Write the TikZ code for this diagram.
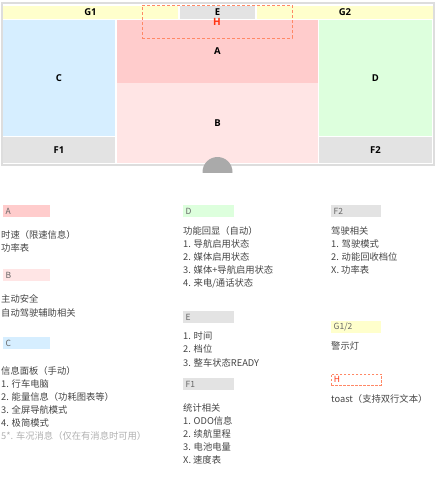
\documentclass[tikz,border=0pt]{standalone}
\usepackage{fontspec}
\setmainfont{Noto Sans CJK SC}
\newfontfamily\labfont{Open Sans}
\definecolor{cA}{HTML}{FFCCCC}
\definecolor{cB}{HTML}{FFE5E5}
\definecolor{cC}{HTML}{D6EEFF}
\definecolor{cD}{HTML}{DDFFDD}
\definecolor{cE}{HTML}{E3E3E3}
\definecolor{cG}{HTML}{FFFFCC}
\definecolor{cH}{HTML}{FF8866}
\definecolor{cHt}{HTML}{FF3311}
\definecolor{frame}{HTML}{DDDDDD}
\definecolor{semi}{HTML}{AAAAAA}
\definecolor{txtc}{HTML}{444444}
\definecolor{dimc}{HTML}{B0B0B0}
\definecolor{swt}{HTML}{666666}
\begin{document}
\begin{tikzpicture}[x=1pt,y=-1pt,
  cell/.style={fill=#1,draw=none,inner sep=0,font=\labfont\bfseries\fontsize{9.5}{11}\selectfont,text=black},
  hbox/.style={draw=cH,dash pattern=on 3pt off 2pt,line width=1pt,inner sep=0,
     font=\labfont\bfseries\fontsize{10}{12}\selectfont,text=cHt},
  swatch/.style={fill=#1,draw=none,anchor=north west,minimum height=12pt,inner ysep=0,inner xsep=2.5pt,
     align=left,font=\fontsize{8.5}{10}\selectfont,text=swt},
  hswatch/.style={draw=cH,dash pattern=on 2.5pt off 1.5pt,line width=0.8pt,anchor=north west,minimum height=11pt,
     inner ysep=0,inner xsep=2.5pt,align=left,font=\fontsize{8.5}{10}\selectfont,text=cHt},
  txt/.style={anchor=base west,inner sep=0,font=\fontsize{9.3}{12}\selectfont,text=txtc},
  dim/.style={txt,text=dimc}]
\useasboundingbox (0,0) rectangle (435,482);
% frame
\draw[frame,line width=1.5pt,fill=white] (2,3) rectangle (434,165);
% cells
\node[cell=cG,minimum width=175pt,minimum height=13pt] (G1) at (90.5,12.5) {G1};
\node[cell=cE,minimum width=75pt,minimum height=13pt] (E) at (217.5,12.5) {E};
\node[cell=cG,minimum width=176pt,minimum height=13pt] (G2) at (345,12.5) {G2};
\node[cell=cC,minimum width=112pt,minimum height=116pt] (C) at (59,78) {C};
\node[cell=cE,minimum width=112pt,minimum height=26pt] (F1) at (59,150) {F1};
\node[cell=cA,minimum width=201pt,minimum height=63pt] (A) at (217.5,51.5) {A};
\node[cell=cB,minimum width=201pt,minimum height=80pt] (B) at (217.5,123) {B};
\node[cell=cD,minimum width=113pt,minimum height=116pt] (D) at (375.5,78) {D};
\node[cell=cE,minimum width=113pt,minimum height=26pt] (F2) at (375.5,150) {F2};
\node[hbox,minimum width=150pt,minimum height=33pt] (H) at (217,21.5) {H};
% semicircle
\begin{scope}
\clip (195,150) rectangle (240,172);
\fill[semi] (217.5,172) circle (15pt);
\end{scope}
% legend column 1
\node[swatch=cA,minimum width=47pt,text width=42pt] (kA) at (3,205) {A};
\node[txt] (a1) at (1,238.5) {时速（限速信息）};
\node[txt] (a2) at (1,251.5) {功率表};
\node[swatch=cB,minimum width=47pt,text width=42pt] (kB) at (3,269) {B};
\node[txt] (b1) at (1,302.5) {主动安全};
\node[txt] (b2) at (1,316) {自动驾驶辅助相关};
\node[swatch=cC,minimum width=47pt,text width=42pt] (kC) at (3,337) {C};
\node[txt] (c1) at (1,374.5) {信息面板（手动）};
\node[txt] (c2) at (1,387.5) {1. 行车电脑};
\node[txt] (c3) at (1,400.5) {2. 能量信息（功耗图表等）};
\node[txt] (c4) at (1,413.5) {3. 全屏导航模式};
\node[txt] (c5) at (1,426.5) {4. 极简模式};
\node[dim] (c6) at (1,439.5) {5*. 车况消息（仅在有消息时可用）};
% legend column 2
\node[swatch=cD,minimum width=51pt,text width=46pt] (kD) at (183,205) {D};
\node[txt] (d1) at (183,234.5) {功能回显（自动）};
\node[txt] (d2) at (183,247.5) {1. 导航启用状态};
\node[txt] (d3) at (183,260.5) {2. 媒体启用状态};
\node[txt] (d4) at (183,273.5) {3. 媒体+导航启用状态};
\node[txt] (d5) at (183,286.5) {4. 来电/通话状态};
\node[swatch=cE,minimum width=51pt,text width=46pt] (kE) at (183,311) {E};
\node[txt] (e1) at (183,339.5) {1. 时间};
\node[txt] (e2) at (183,352.5) {2. 档位};
\node[txt] (e3) at (183,366) {3. 整车状态READY};
\node[swatch=cE,minimum width=51pt,text width=46pt] (kF1) at (183,378) {F1};
\node[txt] (f1) at (183,411.5) {统计相关};
\node[txt] (f2) at (183,424.5) {1. ODO信息};
\node[txt] (f3) at (183,437.5) {2. 续航里程};
\node[txt] (f4) at (183,450.5) {3. 电池电量};
\node[txt] (f5) at (183,463.5) {X. 速度表};
% legend column 3
\node[swatch=cE,minimum width=50pt,text width=45pt] (kF2) at (331,205) {F2};
\node[txt] (g1) at (331,234.5) {驾驶相关};
\node[txt] (g2) at (331,247.5) {1. 驾驶模式};
\node[txt] (g3) at (331,260.5) {2. 动能回收档位};
\node[txt] (g4) at (331,273.5) {X. 功率表};
\node[swatch=cG,minimum width=50pt,text width=45pt] (kG) at (331,321) {G1/2};
\node[txt] (w1) at (331,349.5) {警示灯};
\node[hswatch,minimum width=50pt,text width=45pt] (kH) at (331,373.5) {H};
\node[txt] (t1) at (331,402.5) {toast（支持双行文本）};
\end{tikzpicture}
\end{document}
